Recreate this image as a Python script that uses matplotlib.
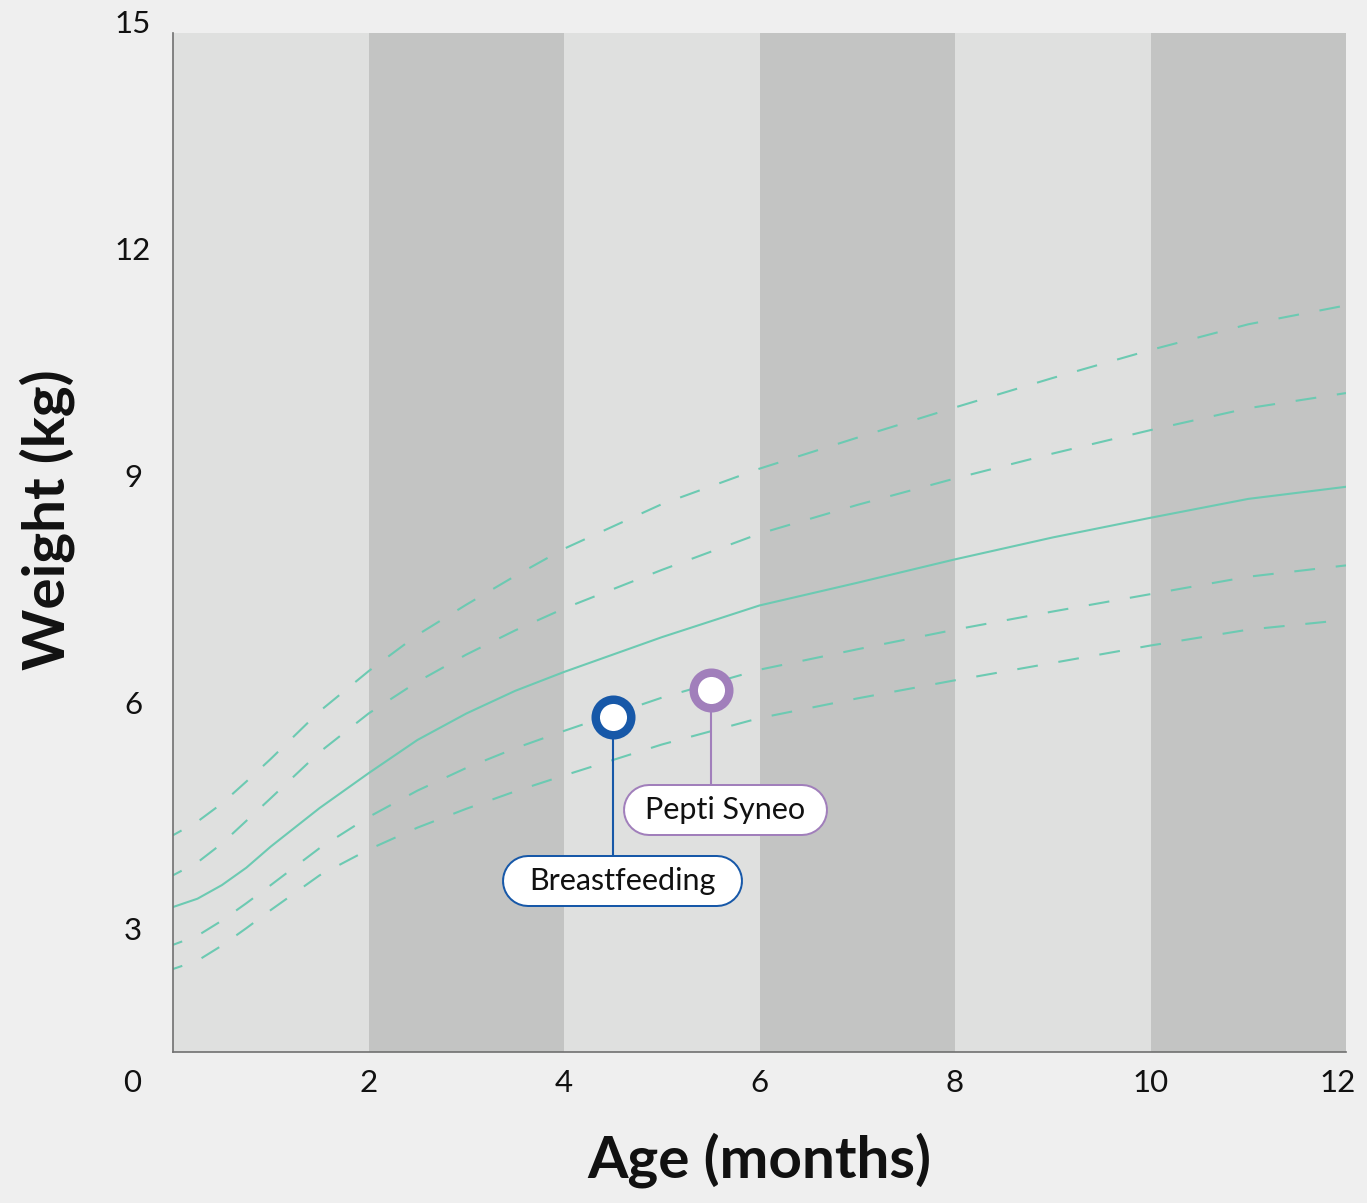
import matplotlib
matplotlib.use("Agg")
from matplotlib import pyplot as plt
from matplotlib import transforms

# growth reference curves (kg)
age = [0, 0.25, 0.5, 0.75, 1, 1.5, 2, 2.5, 3, 3.5, 4, 5, 6, 7, 8, 9, 10, 11, 12]
p97 = [4.24, 4.42, 4.66, 4.95, 5.25, 5.88, 6.41, 6.89, 7.29, 7.67, 8.03, 8.62, 9.09, 9.50, 9.90, 10.29, 10.66, 11.00, 11.25]
p85 = [3.71, 3.88, 4.13, 4.43, 4.73, 5.34, 5.85, 6.27, 6.63, 6.95, 7.24, 7.75, 8.23, 8.61, 8.96, 9.29, 9.60, 9.89, 10.09]
p50 = [3.29, 3.40, 3.58, 3.81, 4.09, 4.60, 5.06, 5.50, 5.85, 6.15, 6.40, 6.86, 7.28, 7.58, 7.89, 8.18, 8.44, 8.69, 8.85]
p15 = [2.79, 2.91, 3.11, 3.34, 3.58, 4.07, 4.48, 4.83, 5.13, 5.39, 5.62, 6.06, 6.43, 6.70, 6.96, 7.20, 7.43, 7.66, 7.81]
p3 = [2.47, 2.58, 2.78, 3.01, 3.25, 3.71, 4.05, 4.34, 4.59, 4.82, 5.03, 5.44, 5.79, 6.05, 6.29, 6.52, 6.75, 6.96, 7.09]

# highlighted measurements
point_labels = ["Breastfeeding", "Pepti Syneo"]
point_age = [4.5, 5.5]
point_weight = [5.80, 6.16]
point_colors = ["#1758a8", "#a17fbb"]

band_edges = [0, 2, 4, 6, 8, 10, 12]
xtick_vals = [2, 4, 6, 8, 10, 12]
ytick_vals = [3, 6, 9, 12, 15]

TEAL = "#6ccab2"
plt.rcParams["font.family"] = ["Lato", "DejaVu Sans"]

W, H = 1367, 1203
fig = plt.figure(figsize=(W / 100, H / 100), dpi=100, facecolor="#efefef")
ax = fig.add_axes([173 / W, 151 / H, 1173 / W, 1019 / H])
ax.set_xlim(0, 12)
ax.set_ylim(1.372, 14.854)
ax.set_xticks([])
ax.set_yticks([])

for i in range(len(band_edges) - 1):
    col = "#dfe0df" if i % 2 == 0 else "#c3c4c3"
    ax.axvspan(band_edges[i], band_edges[i + 1], color=col, lw=0, zorder=0)

for s in ["top", "right"]:
    ax.spines[s].set_visible(False)
for s in ["left", "bottom"]:
    ax.spines[s].set_color("#707070")
    ax.spines[s].set_linewidth(1.2)

dash = (5.3, (10, 10))
for curve in [p97, p85, p15, p3]:
    ax.plot(age, curve, color=TEAL, lw=1.5, linestyle=dash, zorder=2)
ax.plot(age, p50, color=TEAL, lw=1.5, zorder=2)

# tick labels
xtrans = transforms.blended_transform_factory(ax.transData, ax.transAxes)
for v in xtick_vals:
    shift = -8 if v == 12 else 0
    tr = transforms.offset_copy(xtrans, fig=fig, x=shift, units="dots")
    ax.text(v, -0.0388, str(v), transform=tr, ha="center", va="baseline",
            fontsize=22.5, color="#111111")
ytrans = transforms.blended_transform_factory(ax.transAxes, ax.transData)
ytrans = transforms.offset_copy(ytrans, fig=fig, y=-11.5, units="dots")
for v in ytick_vals:
    ax.text(-0.0341, v, str(v), transform=ytrans, ha="center", va="baseline",
            fontsize=22.5, color="#111111", clip_on=False)
ax.text(-0.0349, -0.0388, "0", transform=ax.transAxes, ha="center", va="baseline",
        fontsize=22.5, color="#111111")

ax.text(6, -0.1227, "Age (months)", transform=xtrans, ha="center", va="baseline",
        fontsize=42, fontweight="bold", color="#111111")
fig.text(47 / W, 1 - 520 / H, "Weight (kg)", rotation=90, ha="center", va="center",
         fontsize=42, fontweight="bold", color="#111111")

# callouts: offsets in pixels from the marker
box_offsets = [(9.6, -163.5, 241, 52), (14.6, -119.6, 205, 52)]
for lab, x, y, c, (dx, dy, bw, bh) in zip(point_labels, point_age, point_weight,
                                         point_colors, box_offsets):
    tr = fig.dpi_scale_trans + transforms.ScaledTranslation(x, y, ax.transData)
    cx, cy, w, h = dx / 100, dy / 100, bw / 100, bh / 100
    ax.plot([0, 0], [0, cy + h / 2], color=c, lw=1.5, transform=tr, zorder=4,
            clip_on=False)
    # pill shaped label box: round-capped thick line with a white core
    xs = [cx - w / 2 + h / 2, cx + w / 2 - h / 2]
    ax.plot(xs, [cy, cy], color=c, lw=h * 72, solid_capstyle="round",
            transform=tr, zorder=5, clip_on=False)
    ax.plot(xs, [cy, cy], color="white", lw=(h - 0.04) * 72, solid_capstyle="round",
            transform=tr, zorder=5, clip_on=False)
    ax.text(cx, cy, lab, transform=tr, ha="center", va="center", fontsize=22,
            color="#111111", zorder=6)
    ax.plot(x, y, "o", ms=25.6, mfc="white", mec=c, mew=6.1, zorder=7)

fig.savefig("out.png", dpi=100, facecolor=fig.get_facecolor())
